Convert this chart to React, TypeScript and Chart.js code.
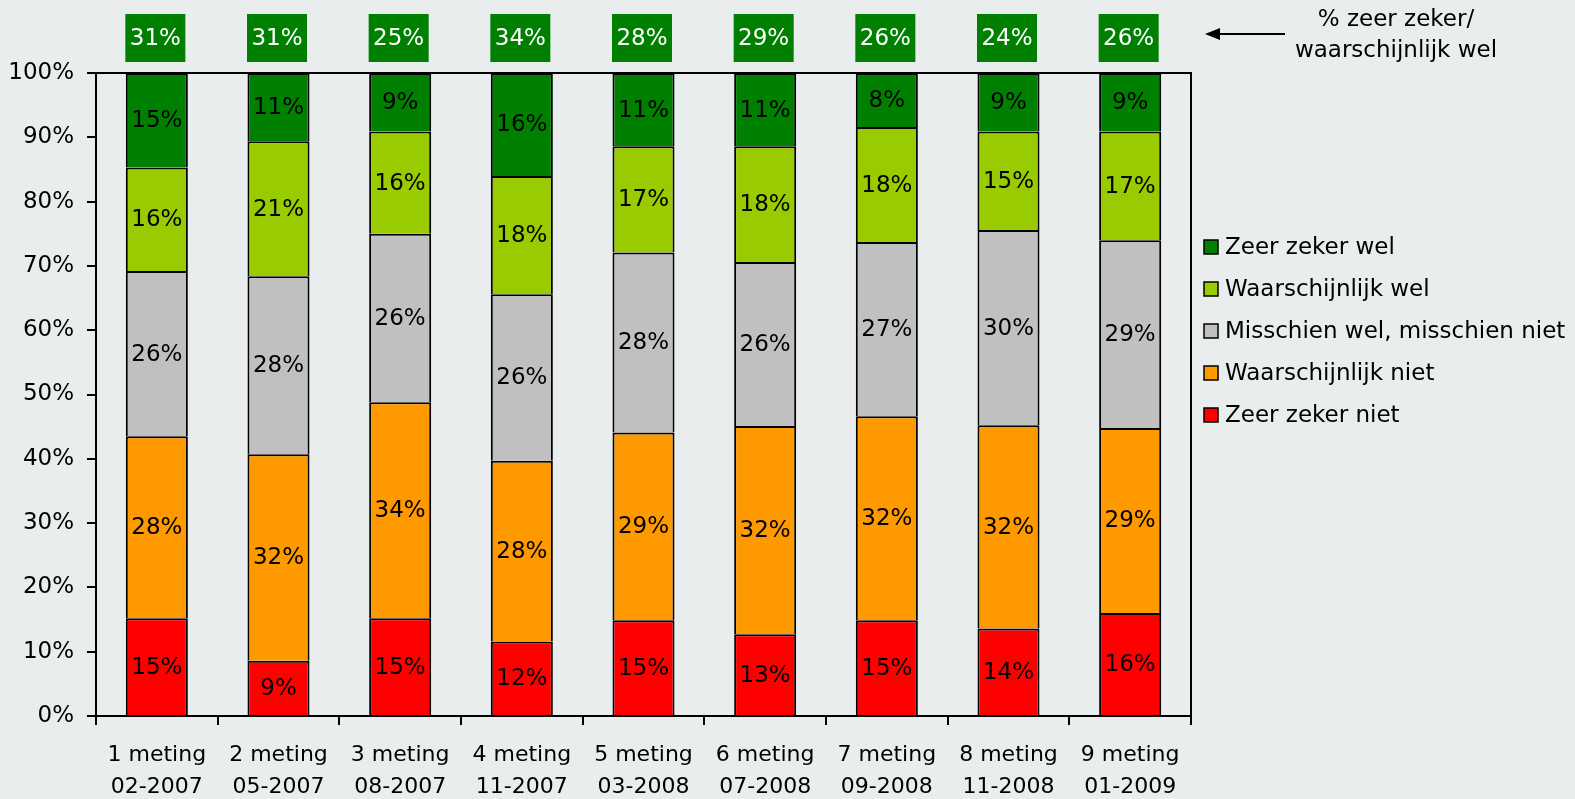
import React, { useEffect, useRef } from 'react';
import { Chart, registerables } from 'chart.js';

Chart.register(...registerables);

const categories = [
  ['1 meting', '02-2007'],
  ['2 meting', '05-2007'],
  ['3 meting', '08-2007'],
  ['4 meting', '11-2007'],
  ['5 meting', '03-2008'],
  ['6 meting', '07-2008'],
  ['7 meting', '09-2008'],
  ['8 meting', '11-2008'],
  ['9 meting', '01-2009'],
];

const seriesNames = [
  'Zeer zeker niet',
  'Waarschijnlijk niet',
  'Misschien wel, misschien niet',
  'Waarschijnlijk wel',
  'Zeer zeker wel',
];
const seriesColors = ['#FF0000', '#FF9900', '#C0C0C0', '#99CC00', '#008000'];

const zeerZekerNiet = [15.2, 8.6, 15.2, 11.6, 14.9, 12.7, 14.9, 13.6, 16.0];
const waarschijnlijkNiet = [28.3, 32.1, 33.6, 28.1, 29.2, 32.4, 31.7, 31.6, 28.8];
const misschien = [25.7, 27.7, 26.2, 25.9, 28.0, 25.5, 27.1, 30.4, 29.2];
const waarschijnlijkWel = [16.1, 21.0, 15.9, 18.4, 16.5, 18.0, 17.9, 15.3, 16.9];
const zeerZekerWel = [14.7, 10.6, 9.1, 16.0, 11.4, 11.4, 8.4, 9.1, 9.1];

const totaalWel = [31, 31, 25, 34, 28, 29, 26, 24, 26];

const calloutLines = ['% zeer zeker/', 'waarschijnlijk wel'];

const FONT = "'DejaVu Sans', Verdana, sans-serif";
const FS = 23;

const segmentLabels = {
  id: 'segmentLabels',
  afterDatasetsDraw(chart: any) {
    const ctx = chart.ctx;
    ctx.save();
    ctx.font = `${FS}px ${FONT}`;
    ctx.fillStyle = '#000';
    ctx.textAlign = 'center';
    ctx.textBaseline = 'middle';
    chart.data.datasets.forEach((ds: any, di: number) => {
      const meta = chart.getDatasetMeta(di);
      meta.data.forEach((el: any, i: number) => {
        const v = ds.data[i];
        const y = (el.y + el.base) / 2;
        ctx.fillText(`${Math.round(v)}%`, el.x, y + 1);
      });
    });
    ctx.restore();
  },
};

const frameAndExtras = {
  id: 'frameAndExtras',
  afterDraw(chart: any) {
    const ctx = chart.ctx;
    const area = chart.chartArea;
    ctx.save();
    // frame (top and right)
    ctx.strokeStyle = '#000';
    ctx.lineWidth = 2;
    ctx.beginPath();
    ctx.moveTo(area.left, area.top);
    ctx.lineTo(area.right, area.top);
    ctx.lineTo(area.right, area.bottom);
    ctx.stroke();

    // top totals boxes
    const xs = chart.scales.x;
    ctx.font = `${FS}px ${FONT}`;
    ctx.textAlign = 'center';
    ctx.textBaseline = 'middle';
    totaalWel.forEach((v, i) => {
      const cx = xs.getPixelForValue(i) - 1.5;
      ctx.fillStyle = '#008000';
      ctx.fillRect(cx - 30, 14, 60, 48);
      ctx.fillStyle = '#FFFFFF';
      ctx.fillText(`${v}%`, cx, 39);
    });

    // arrow + callout
    ctx.strokeStyle = '#000';
    ctx.fillStyle = '#000';
    ctx.lineWidth = 2;
    ctx.beginPath();
    ctx.moveTo(1285, 34);
    ctx.lineTo(1215, 34);
    ctx.stroke();
    ctx.beginPath();
    ctx.moveTo(1205, 34);
    ctx.lineTo(1220, 28);
    ctx.lineTo(1220, 40);
    ctx.closePath();
    ctx.fill();
    ctx.fillStyle = '#000';
    ctx.fillText(calloutLines[0], 1396, 20);
    ctx.fillText(calloutLines[1], 1396, 51);

    // legend (reverse order)
    ctx.textAlign = 'left';
    const items = chart.data.datasets.map((d: any) => ({ label: d.label, color: d.backgroundColor })).reverse();
    items.forEach((it: any, k: number) => {
      const cy = 247 + k * 42;
      ctx.fillStyle = it.color;
      ctx.fillRect(1204, cy - 7, 14, 14);
      ctx.strokeStyle = '#000';
      ctx.lineWidth = 1.5;
      ctx.strokeRect(1204, cy - 7, 14, 14);
      ctx.fillStyle = '#000';
      ctx.fillText(it.label, 1225, cy + 1);
    });
    ctx.restore();
  },
};

export default function App() {
  const ref = useRef<HTMLCanvasElement | null>(null);
  useEffect(() => {
    if (!ref.current) return;
    Chart.defaults.font.family = FONT;
    Chart.defaults.font.size = FS;
    Chart.defaults.color = '#000';
    const values = [zeerZekerNiet, waarschijnlijkNiet, misschien, waarschijnlijkWel, zeerZekerWel];
    const chart = new Chart(ref.current, {
      type: 'bar',
      data: {
        labels: categories,
        datasets: values.map((arr, i) => ({
          label: seriesNames[i],
          data: arr,
          backgroundColor: seriesColors[i],
          borderColor: '#000',
          borderWidth: 2,
          categoryPercentage: 1,
          barPercentage: 0.51,
        })),
      },
      options: {
        animation: false,
        responsive: true,
        maintainAspectRatio: false,
        layout: { padding: { left: 10, right: 384, top: 73, bottom: 0 } },
        plugins: {
          legend: { display: false },
          tooltip: { enabled: false },
        },
        scales: {
          x: {
            stacked: true,
            grid: {
              offset: true,
              drawOnChartArea: false,
              drawTicks: true,
              tickLength: 9,
              color: '#000',
              lineWidth: 2,
            },
            border: { display: true, color: '#000', width: 2 },
            ticks: {
              padding: 15,
              maxRotation: 0,
              autoSkip: false,
              font: { size: 22, lineHeight: 1.42 },
              color: '#000',
            },
            afterFit: (s: any) => {
              s.height = 83;
            },
          },
          y: {
            stacked: true,
            min: 0,
            max: 100,
            grid: {
              drawOnChartArea: false,
              drawTicks: true,
              tickLength: 9,
              color: '#000',
              lineWidth: 2,
            },
            border: { display: true, color: '#000', width: 2 },
            ticks: {
              stepSize: 10,
              padding: 13,
              color: '#000',
              font: { size: FS },
              callback: (v: any) => `${v}%`,
            },
            afterFit: (s: any) => {
              s.width = 86;
            },
          },
        },
      },
      plugins: [segmentLabels, frameAndExtras],
    });
    return () => chart.destroy();
  }, []);
  return (
    <div
      style={{
        position: 'fixed',
        left: 0,
        top: 0,
        width: 1575,
        height: 799,
        background: '#E9EDEE',
      }}
    >
      <canvas ref={ref} />
    </div>
  );
}
